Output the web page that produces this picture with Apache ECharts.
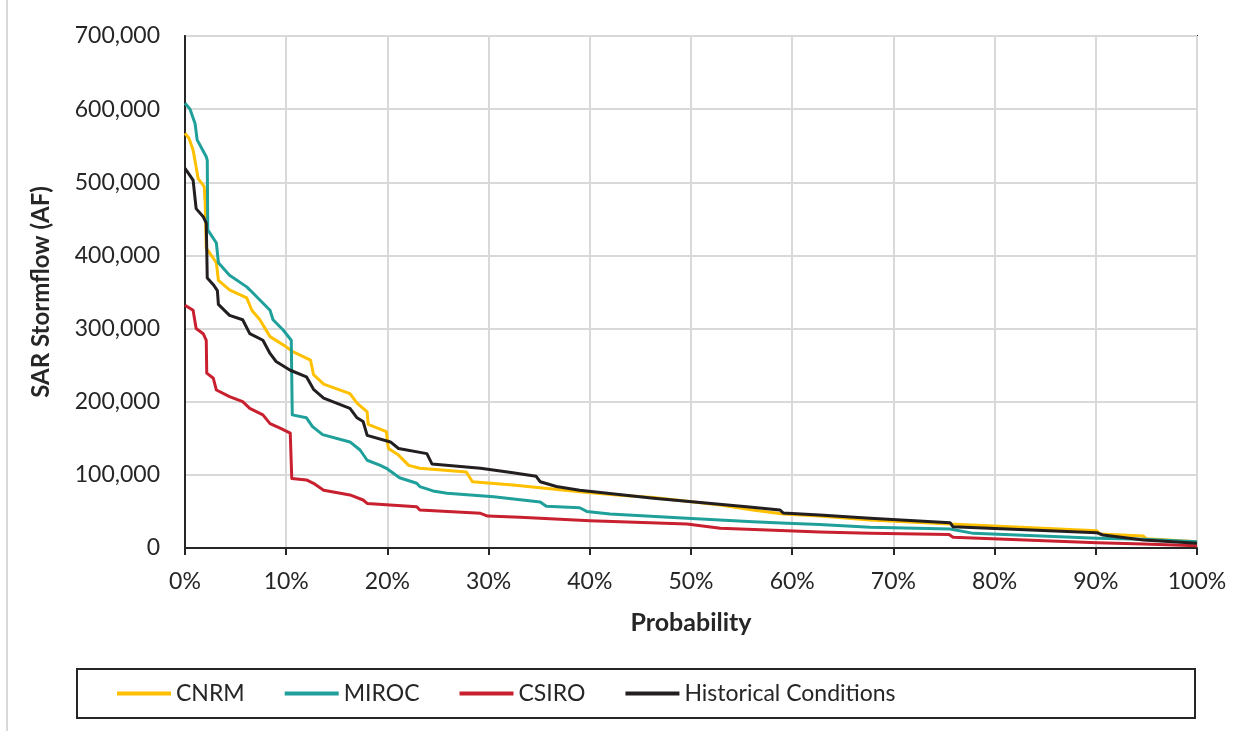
<!DOCTYPE html>
<html>
<head>
<meta charset="utf-8">
<script src="https://cdn.jsdelivr.net/npm/echarts@6/dist/echarts.min.js"></script>
<style>
html,body{margin:0;padding:0;background:#fff;}
#chart{width:1253px;height:731px;}
</style>
</head>
<body>
<div id="chart"></div>
<script>
// Probability (%) and SAR Stormflow (AF) pairs
const seriesNames = ['CNRM', 'MIROC', 'CSIRO', 'Historical Conditions'];
const xTickValues = [0, 10, 20, 30, 40, 50, 60, 70, 80, 90, 100];
const yTickValues = [0, 100000, 200000, 300000, 400000, 500000, 600000, 700000];

const cnrm = [[0,567000],[0.4,560000],[0.8,544000],[1.1,521000],[1.3,505000],[1.9,494000],[2.0,470000],[2.1,410000],[2.6,400000],[3.1,390000],[3.3,366000],[4.4,353000],[6.1,342000],[6.6,325000],[7.4,312000],[8.4,289000],[10.0,275000],[10.7,268000],[12.4,257000],[12.7,237000],[13.7,224000],[16.3,211000],[17.0,198000],[18.0,186000],[18.1,169000],[19.9,159000],[20.1,136000],[21.1,127000],[22.1,113000],[23.2,109000],[27.8,104000],[28.4,90600],[32.4,86000],[39.0,77000],[43.0,72000],[46.3,69000],[52.9,58800],[56.1,52000],[59.1,46500],[62.7,43700],[67.7,38300],[75.6,32800],[90.1,23700],[90.4,19000],[94.7,16400],[95.0,12500],[100,8600]];

const miroc = [[0,608000],[0.5,600000],[1.0,580000],[1.2,558000],[2.1,535000],[2.2,530000],[2.25,435000],[3.1,417000],[3.3,390000],[4.4,373000],[6.1,357000],[6.4,353000],[7.4,339000],[8.4,325000],[8.7,312000],[9.7,298000],[10.5,284000],[10.6,182000],[12.0,178000],[12.6,166000],[13.6,155000],[16.3,145000],[17.3,134000],[18.0,120000],[19.3,113000],[19.9,109000],[21.2,96000],[22.9,88500],[23.2,84000],[24.5,78000],[25.9,75000],[30.5,70000],[35.1,63000],[35.7,57000],[39.0,55000],[39.7,50000],[42.0,46500],[49.6,40600],[56.1,36000],[59.5,34000],[62.7,32000],[67.7,28500],[75.6,26000],[77.9,20000],[90.1,13300],[94.7,12000],[100,8600]];

const csiro = [[0,332000],[0.8,325000],[1.1,300000],[1.8,293000],[2.1,284000],[2.15,239000],[2.8,232000],[3.1,216000],[4.4,207000],[5.7,200000],[6.4,191000],[7.7,182000],[8.4,170000],[9.4,164000],[10.4,157000],[10.55,95000],[12.0,93000],[12.7,88500],[13.7,79000],[16.3,72500],[17.6,65600],[18.0,61000],[22.9,56500],[23.2,52000],[29.2,47400],[29.9,43700],[33.1,42000],[40.0,37300],[43.0,36000],[49.6,32800],[52.9,26900],[59.5,23700],[62.7,22000],[67.7,20000],[75.5,18500],[75.9,14600],[90.1,7300],[94.7,5500],[100,3100]];

const historical = [[0,519000],[0.8,503000],[1.1,464000],[1.8,453000],[2.1,444000],[2.2,369000],[2.8,360000],[3.2,352000],[3.3,333000],[4.4,318000],[5.7,312000],[6.4,293000],[7.7,284000],[8.4,266000],[9.0,255000],[10.4,243000],[12.0,234000],[12.7,217000],[13.7,205000],[16.3,191000],[17.0,178000],[17.6,173000],[18.0,154000],[20.3,145000],[21.1,136000],[23.9,129000],[24.4,115000],[29.2,109000],[32.4,103000],[34.7,98000],[35.1,90600],[36.7,84000],[39.0,79000],[46.3,68000],[55.5,56500],[58.8,52000],[59.1,48000],[62.7,45000],[67.7,40600],[75.6,34600],[75.9,29000],[90.1,21000],[90.7,17800],[94.7,11000],[100,6400]];

const colors = ['#FFC000', '#1FA09B', '#C8202F', '#231F20'];
const FONT = 'Lato, "Open Sans", sans-serif';
const TXT = '#262626';

const chart = echarts.init(document.getElementById('chart'), null, {renderer: 'canvas'});
const dataSets = [cnrm, miroc, csiro, historical];

chart.setOption({
  animation: false,
  backgroundColor: '#fff',
  textStyle: {fontFamily: FONT},
  color: colors,
  grid: {left: 185, right: 56, top: 36, bottom: 183, show: true, borderColor: '#262626', borderWidth: 2, backgroundColor: 'transparent'},
  graphic: [
    {type: 'line', shape: {x1: 7, y1: 0, x2: 7, y2: 731}, style: {stroke: '#D9D9D9', lineWidth: 2}, silent: true},
    {type: 'rect', shape: {x: 77, y: 669, width: 1118, height: 49}, style: {fill: 'none', stroke: '#262626', lineWidth: 2}, silent: true}
  ],
  legend: {
    data: seriesNames,
    left: 117,
    top: 682,
    icon: 'rect',
    itemWidth: 54,
    itemHeight: 4,
    itemGap: 40,
    padding: 0,
    textStyle: {fontFamily: FONT, fontSize: 23, color: TXT, padding: [0, 0, 0, 0]}
  },
  xAxis: {
    type: 'value', min: 0, max: 100, interval: 10,
    name: 'Probability', nameLocation: 'middle', nameGap: 62,
    nameTextStyle: {fontFamily: FONT, fontSize: 25, fontWeight: 'bold', color: TXT},
    axisLine: {show: true, lineStyle: {color: '#262626', width: 2}},
    axisTick: {show: true, length: 7, lineStyle: {color: '#262626', width: 2}},
    axisLabel: {margin: 22, fontSize: 23, color: TXT, fontFamily: FONT,
      formatter: v => xTickValues.includes(v) ? v + '%' : ''},
    splitLine: {show: true, lineStyle: {color: '#D9D9D9', width: 2}}
  },
  yAxis: {
    type: 'value', min: 0, max: 700000, interval: 100000,
    name: 'SAR Stormflow (AF)', nameLocation: 'middle', nameGap: 132, nameRotate: 90,
    nameTextStyle: {fontFamily: FONT, fontSize: 24, fontWeight: 'bold', color: TXT},
    axisLine: {show: true, lineStyle: {color: '#262626', width: 2}},
    axisTick: {show: false},
    axisLabel: {margin: 25, fontSize: 23, color: TXT, fontFamily: FONT,
      formatter: v => yTickValues.includes(v) ? v.toLocaleString('en-US') : ''},
    splitLine: {show: true, lineStyle: {color: '#D9D9D9', width: 2}}
  },
  series: seriesNames.map((n, i) => ({
    name: n, type: 'line', data: dataSets[i], showSymbol: false, symbol: 'none',
    lineStyle: {width: 3, color: colors[i], join: 'round'},
    itemStyle: {color: colors[i]},
    z: 2 + i
  }))
});
</script>
</body>
</html>
